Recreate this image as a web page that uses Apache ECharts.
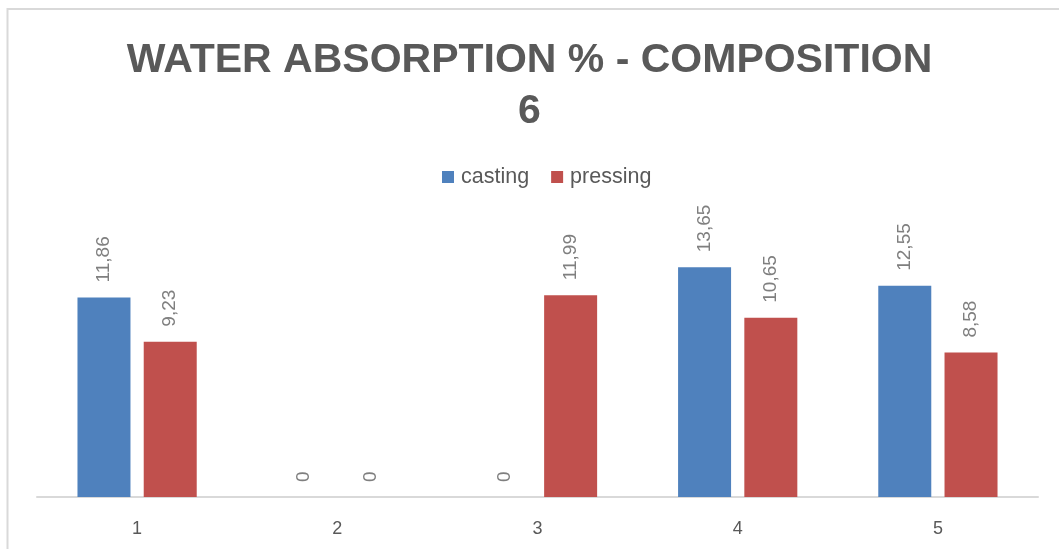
<!DOCTYPE html>
<html>
<head>
<meta charset="utf-8">
<script src="https://cdn.jsdelivr.net/npm/echarts@6/dist/echarts.min.js"></script>
<style>
  html, body { margin: 0; padding: 0; background: #fff; }
  #chart { width: 1059px; height: 549px; }
</style>
</head>
<body>
<div id="chart"></div>
<script>
// Water absorption (%) per sample for composition 6
const categories = ['1', '2', '3', '4', '5'];
const castingValues = [11.86, 0, 0, 13.65, 12.55];
const pressingValues = [9.23, 0, 11.99, 10.65, 8.58];
const seriesNames = ['casting', 'pressing'];
const titleText = 'WATER ABSORPTION % - COMPOSITION\n6';

const fmt = p => String(p.value).replace('.', ',');

const barLabel = {
  show: true,
  position: 'top',
  rotate: 90,
  align: 'left',
  verticalAlign: 'middle',
  distance: 15,
  color: '#7f7f7f',
  fontFamily: 'Liberation Sans',
  fontSize: 19,
  formatter: fmt
};

const chart = echarts.init(document.getElementById('chart'), null, { renderer: 'canvas' });
chart.setOption({
  backgroundColor: '#ffffff',
  animation: false,
  graphic: [{
    type: 'rect',
    shape: { x: 7.5, y: 9, width: 1100, height: 600 },
    style: { fill: 'none', stroke: '#d9d9d9', lineWidth: 2 },
    silent: true,
    z: -10
  }],
  title: {
    text: titleText,
    left: 'center',
    top: 30,
    textStyle: {
      fontFamily: 'Liberation Sans',
      fontSize: 41,
      fontWeight: 'bold',
      color: '#595959',
      lineHeight: 51
    }
  },
  legend: {
    data: seriesNames,
    top: 161,
    left: 437,
    icon: 'rect',
    itemWidth: 12,
    itemHeight: 12,
    itemGap: 22,
    textStyle: {
      fontFamily: 'Liberation Sans',
      fontSize: 21.5,
      color: '#595959',
      padding: [0, 0, 0, 2]
    }
  },
  grid: { left: 37, right: 21, top: 227.7, bottom: 52, containLabel: false },
  xAxis: {
    type: 'category',
    data: categories,
    axisLine: { show: true, lineStyle: { color: '#d9d9d9', width: 2 } },
    axisTick: { show: false },
    axisLabel: {
      margin: 23,
      color: '#595959',
      fontFamily: 'Liberation Sans',
      fontSize: 18
    }
  },
  yAxis: {
    type: 'value',
    min: 0,
    max: 16,
    interval: 2,
    show: false,
    splitLine: { show: false }
  },
  series: [
    {
      name: seriesNames[0],
      type: 'bar',
      data: castingValues,
      barWidth: 53,
      barGap: '25%',
      itemStyle: { color: '#4f81bd' },
      label: barLabel
    },
    {
      name: seriesNames[1],
      type: 'bar',
      data: pressingValues,
      barWidth: 53,
      barGap: '25%',
      itemStyle: { color: '#c0504d' },
      label: barLabel
    }
  ]
});
</script>
</body>
</html>
